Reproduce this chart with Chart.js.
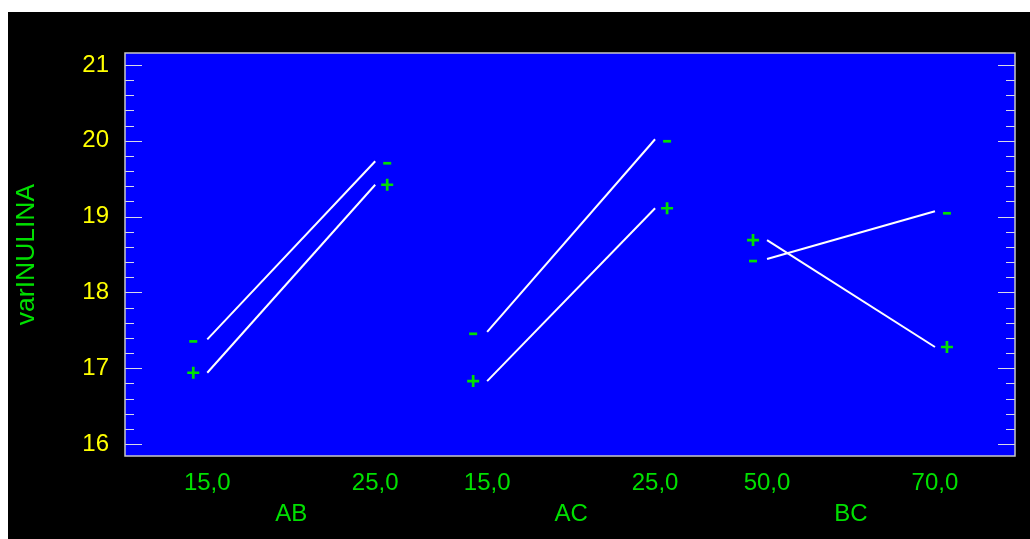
<!DOCTYPE html>
<html>
<head>
<meta charset="utf-8">
<script src="https://cdn.jsdelivr.net/npm/chart.js@4.4.1/dist/chart.umd.min.js"></script>
<style>
  body { margin: 0; background: #fff; }
  #wrap { position: absolute; left: 8px; top: 12px; width: 1022px; height: 527px; background: #000; }
</style>
</head>
<body>
<div id="wrap"><canvas id="myChart" width="1022" height="527"></canvas></div>
<script>
// niveles de cada factor y su posición sobre el eje
const levels = ['15,0', '25,0', '15,0', '25,0', '50,0', '70,0'];
const xPos = [0, 3, 5, 8, 10, 13];
const groups = ['AB', 'AC', 'BC'];
const yTicks = [16, 17, 18, 19, 20, 21];

// medias de varINULINA (segundo factor en nivel bajo "-" / alto "+")
const lowSeries = [17.38, 19.73, 17.48, 20.02, 18.44, 19.07];
const highSeries = [16.94, 19.42, 16.83, 19.11, 18.69, 17.28];

const GREEN = '#00e000';
const YELLOW = '#ffff00';
const FONT = 'Liberation Sans, Arial, sans-serif';

const datasets = [];
groups.forEach((g, i) => {
    [[lowSeries, '-'], [highSeries, '+']].forEach(([vals, sign]) => {
        datasets.push({
            label: g + sign,
            sign: sign,
            data: [
                { x: xPos[2 * i], y: vals[2 * i] },
                { x: xPos[2 * i + 1], y: vals[2 * i + 1] }
            ],
            borderColor: '#ffffff',
            borderWidth: 2,
            pointRadius: 0,
            tension: 0
        });
    });
});

const plotDeco = {
    id: 'plotDeco',
    beforeDatasetsDraw(chart) {
        const { ctx, chartArea: a, scales: { y } } = chart;
        ctx.save();
        ctx.fillStyle = '#0000ff';
        ctx.fillRect(a.left, a.top, a.right - a.left, a.bottom - a.top);
        // marcas interiores del eje y (izquierda y derecha)
        ctx.strokeStyle = '#d8d8e8';
        ctx.lineWidth = 1;
        for (let k = 0; k <= (yTicks.length - 1) * 5; k++) {
            const v = yTicks[0] + k * 0.2;
            const py = Math.round(y.getPixelForValue(v)) + 0.5;
            const len = k % 5 === 0 ? 17 : 9;
            ctx.beginPath();
            ctx.moveTo(a.left, py); ctx.lineTo(a.left + len, py);
            ctx.moveTo(a.right, py); ctx.lineTo(a.right - len, py);
            ctx.stroke();
        }
        ctx.strokeStyle = '#c8c8c8';
        ctx.lineWidth = 1.5;
        ctx.strokeRect(a.left, a.top, a.right - a.left, a.bottom - a.top);
        ctx.restore();
    },
    afterDatasetsDraw(chart) {
        const ctx = chart.ctx;
        ctx.save();
        ctx.strokeStyle = GREEN;
        ctx.lineWidth = 2.7;
        chart.data.datasets.forEach((ds, i) => {
            const pts = chart.getDatasetMeta(i).data;
            [[pts[0], -14], [pts[1], 12]].forEach(([p, dx]) => {
                const cx = p.x + dx;
                ctx.beginPath();
                if (ds.sign === '+') {
                    ctx.moveTo(cx - 6, p.y); ctx.lineTo(cx + 6, p.y);
                    ctx.moveTo(cx, p.y - 6); ctx.lineTo(cx, p.y + 6);
                } else {
                    ctx.moveTo(cx - 4, p.y + 2); ctx.lineTo(cx + 4, p.y + 2);
                }
                ctx.stroke();
            });
        });
        ctx.restore();
    }
};

new Chart(document.getElementById('myChart'), {
    type: 'line',
    data: { datasets: datasets },
    plugins: [plotDeco],
    options: {
        responsive: false,
        animation: false,
        layout: { padding: { top: 41, right: 15, left: 0, bottom: 0 } },
        plugins: { legend: { display: false }, tooltip: { enabled: false } },
        scales: {
            x: {
                type: 'linear',
                position: 'bottom',
                min: -1.47,
                max: 14.43,
                grid: { display: false, drawTicks: false },
                border: { display: false },
                afterBuildTicks: s => { s.ticks = xPos.map(v => ({ value: v })); },
                afterFit: s => { s.height = 44; },
                ticks: {
                    autoSkip: false,
                    maxRotation: 0,
                    padding: 13,
                    color: GREEN,
                    font: { family: FONT, size: 24 },
                    callback: (v, i) => levels[i]
                }
            },
            x2: {
                type: 'linear',
                position: 'bottom',
                min: -1.47,
                max: 14.43,
                grid: { display: false, drawTicks: false },
                border: { display: false },
                afterBuildTicks: s => {
                    s.ticks = groups.map((g, i) => ({ value: (xPos[2 * i] + xPos[2 * i + 1]) / 2 }));
                },
                afterFit: s => { s.height = 39; },
                ticks: {
                    autoSkip: false,
                    maxRotation: 0,
                    padding: 0,
                    color: GREEN,
                    font: { family: FONT, size: 24 },
                    callback: (v, i) => groups[i]
                }
            },
            y: {
                min: 15.842,
                max: 21.158,
                grid: { display: false, drawTicks: false },
                border: { display: false },
                afterBuildTicks: s => { s.ticks = yTicks.map(v => ({ value: v })); },
                afterFit: s => { s.width = 117; },
                ticks: {
                    autoSkip: false,
                    padding: 16,
                    color: YELLOW,
                    font: { family: FONT, size: 24 },
                    callback: v => String(v)
                },
                title: {
                    display: true,
                    text: 'varINULINA',
                    color: GREEN,
                    padding: { top: 3 },
                    font: { family: FONT, size: 26.5 }
                }
            }
        }
    }
});
</script>
</body>
</html>
